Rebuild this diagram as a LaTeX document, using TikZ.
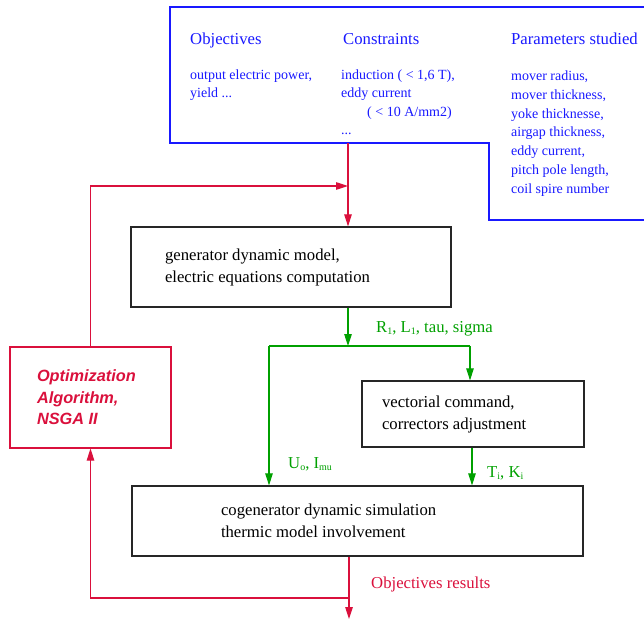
\documentclass[tikz,border=0pt]{standalone}
\usepackage{fontspec}
\setmainfont{Liberation Serif}
\newfontfamily\optfont{Liberation Sans}
\usetikzlibrary{arrows.meta}
\definecolor{cblue}{RGB}{25,25,255}
\definecolor{cred}{RGB}{218,16,60}
\definecolor{cgreen}{RGB}{0,160,0}
\newcommand\lowsub[1]{\raisebox{-1.5pt}{\fontsize{10}{10}\selectfont #1}}
\begin{document}
\begin{tikzpicture}[x=1pt,y=-1pt,
  big/.style={font=\fontsize{16.7}{22}\selectfont},
  small/.style={font=\fontsize{14}{18.5}\selectfont},
  txt/.style={inner sep=0pt, anchor=base west},
  box/.style={draw=black!85, line width=1.2pt, rectangle, inner ysep=0pt, align=flush left, big},
  arr/.style={-{Triangle[length=12pt,width=7.5pt]}, line width=1.1pt},
  rarr/.style={arr, draw=cred},
  garr/.style={arr, draw=cgreen}
]
\useasboundingbox (0,0) rectangle (644,620);

% blue specification frame
\draw[cblue, line width=1.1pt] (644,7) -- (170,7) -- (170,143) -- (489,143) -- (489,220) -- (644,220);
\node[txt,big,cblue] (h1) at (190,44.5) {Objectives};
\node[txt,big,cblue] (h2) at (343,44.5) {Constraints};
\node[txt,big,cblue] (h3) at (511,44.5) {Parameters studied};
\node[txt,small,cblue] (o1) at (190,79.5) {output electric power,};
\node[txt,small,cblue] (o2) at (190,97.5) {yield ...};
\node[txt,small,cblue] (c1) at (341,79.5) {induction ( < 1,6 T),};
\node[txt,small,cblue] (c2) at (341,97.5) {eddy current};
\node[txt,small,cblue] (c3) at (367,116.5) {( < 10 A/mm2)};
\node[txt,small,cblue] (c4) at (341,134.5) {...};
\node[txt,small,cblue] (p1) at (511,80.5) {mover radius,};
\node[txt,small,cblue] (p2) at (511,99.3) {mover thickness,};
\node[txt,small,cblue] (p3) at (511,118.1) {yoke thicknesse,};
\node[txt,small,cblue] (p4) at (511,136.9) {airgap thickness,};
\node[txt,small,cblue] (p5) at (511,155.7) {eddy current,};
\node[txt,small,cblue] (p6) at (511,174.5) {pitch pole length,};
\node[txt,small,cblue] (p7) at (511,193.3) {coil spire number};

% boxes
\node[box, minimum width=320pt, minimum height=80pt, text width=252pt, inner xsep=34pt] (box1) at (291,267)
  {generator dynamic model,\\electric equations computation};
\node[box, minimum width=222pt, minimum height=66pt, text width=182pt, inner xsep=20pt] (box2) at (473,414)
  {vectorial command,\\correctors adjustment};
\node[box, minimum width=451pt, minimum height=70pt, text width=273pt, inner xsep=89pt] (box3) at (357.5,521)
  {cogenerator dynamic simulation\\thermic model involvement};
\node[draw=cred, line width=1.1pt, rectangle, inner ysep=0pt, align=flush left,
      minimum width=161pt, minimum height=101pt, text width=107pt, inner xsep=27pt,
      text=cred, font=\optfont\bfseries\itshape\fontsize{16.3}{21.5}\selectfont] (opt) at (90.5,397.5)
  {Optimization\\Algorithm,\\NSGA II};

% red connectors
\coordinate (topin) at (348,143);
\coordinate (fb) at (348,186);
\draw[rarr] (topin) -- (topin |- box1.north);
\draw[rarr] (opt.north) -- (opt.north |- fb) -- (fb);
\coordinate (ob) at (349,598);
\coordinate (rend) at (349,619);
\draw[rarr] (box3.south -| ob) -- (rend);
\draw[rarr] (ob) -- (ob -| opt.south) -- (opt.south);

% green connectors
\coordinate (gj) at (348,346);
\coordinate (gl) at (269,346);
\coordinate (gr) at (470,346);
\coordinate (gt) at (472,447);
\draw[garr] (box1.south -| gj) -- (gj);
\draw[cgreen, line width=1.1pt] (gl) -- (gr);
\draw[garr] (gr) -- (gr |- box2.north);
\draw[garr] (gl) -- (gl |- box3.north);
\draw[garr] (box2.south -| gt) -- (box3.north -| gt);

% labels
\node[txt,big,cgreen] (l1) at (376,332.5) {R\lowsub{1}, L\lowsub{1}, tau, sigma};
\node[txt,big,cgreen] (l2) at (288,468.5) {U\lowsub{o}, I\lowsub{mu}};
\node[txt,big,cgreen] (l3) at (487,477.5) {T\lowsub{i}, K\lowsub{i}};
\node[txt,big,cred] (l4) at (371,588) {Objectives results};
\end{tikzpicture}
\end{document}
